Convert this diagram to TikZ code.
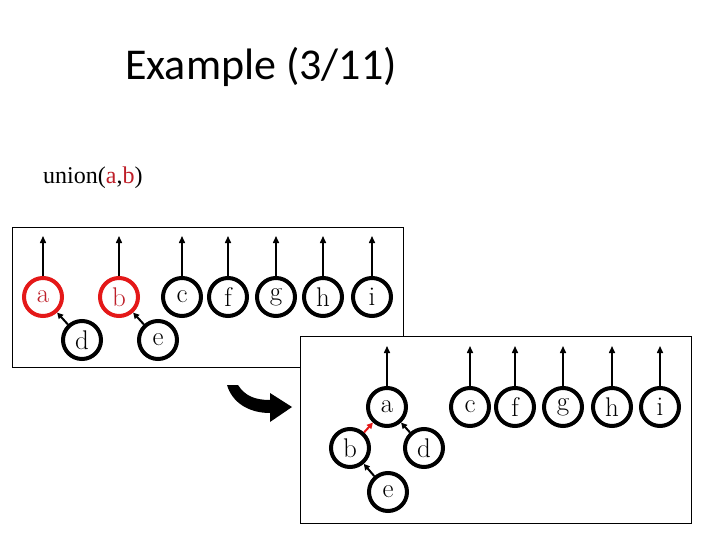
\documentclass[tikz,border=0pt]{standalone}
\usepackage{fontspec}
\newfontfamily\titlefont{Carlito}
\newfontfamily\timesfont{Liberation Serif}
\usetikzlibrary{arrows.meta}
\definecolor{ringred}{RGB}{228,24,24}
\definecolor{txtred}{RGB}{190,30,40}
\tikzset{
  vtx/.style={circle,draw=black,line width=4pt,minimum size=38pt,inner sep=0pt,fill=white,
    font=\fontsize{27}{27}\selectfont},
  redvtx/.style={vtx,draw=ringred,text=txtred},
  up/.style={line width=1.5pt,-{Triangle[length=7pt,width=6pt]}},
  ptr/.style={line width=2pt,-{Triangle[length=6pt,width=6pt]}},
  panel/.style={draw=black,line width=1pt,fill=white}
}
\begin{document}
\begin{tikzpicture}[x=1pt,y=-1pt]
\useasboundingbox (0,0) rectangle (720,540);
\fill[white] (0,0) rectangle (720,540);
\node[anchor=base west,inner sep=0pt,font=\titlefont\fontsize{44}{44}\selectfont] (title) at (125,80) {Example (3/11)};
\node[anchor=base west,inner sep=0pt,font=\timesfont\fontsize{24}{24}\selectfont] (op) at (43,184) {union(\textcolor{txtred}{a},\textcolor{txtred}{b})};
% panel 1
\draw[panel] (12,228) rectangle (403,367);
\foreach \n/\x in {a/43,b/119}{
  \node[redvtx] (p\n) at (\x,297) {\n};
}
\foreach \n/\x in {c/182,f/228,g/276,h/323,i/372}{
  \node[vtx] (p\n) at (\x,297) {\n};
}
\node[vtx] (pd) at (82,340) {d};
\node[vtx] (pe) at (158,340) {e};
\foreach \n in {a,b,c,f,g,h,i}{
  \coordinate (pt\n) at ([yshift=40pt]p\n.north);
  \draw[up] (p\n.north) -- (pt\n);
}
\draw[ptr] (pd) -- (pa);
\draw[ptr] (pe) -- (pb);
% curved arrow
\fill[black] (227,385) -- (238,385) .. controls (245,396) and (255,400) .. (270,400)
  -- (270,393) -- (292,407) -- (270,422) -- (270,413)
  .. controls (248,413) and (232,402) .. (227,385) -- cycle;
% panel 2
\draw[panel] (300,336) rectangle (691,523);
\node[vtx] (qa) at (387,407) {a};
\foreach \n/\x in {c/470,f/515,g/563,h/612,i/660}{
  \node[vtx] (q\n) at (\x,407) {\n};
}
\node[vtx] (qb) at (350,448) {b};
\node[vtx] (qd) at (424,448) {d};
\node[vtx] (qe) at (388,492) {e};
\foreach \n in {a,c,f,g,h,i}{
  \coordinate (qt\n) at ([yshift=40pt]q\n.north);
  \draw[up] (q\n.north) -- (qt\n);
}
\draw[ptr,draw=ringred,fill=ringred] (qb) -- (qa);
\draw[ptr] (qd) -- (qa);
\draw[ptr] (qe) -- (qb);
\end{tikzpicture}
\end{document}
